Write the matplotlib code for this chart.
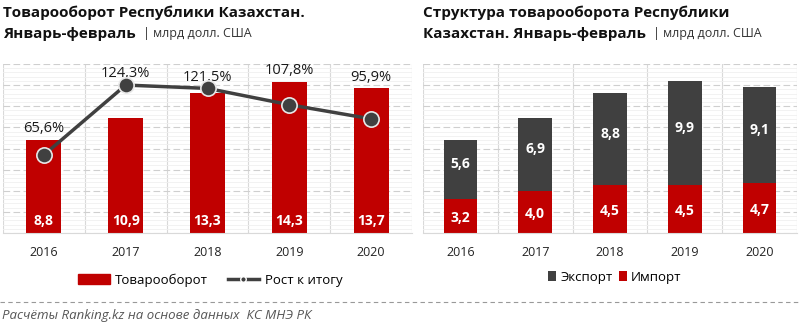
import matplotlib
matplotlib.use("Agg")
import matplotlib.pyplot as plt
import numpy as np
from matplotlib.lines import Line2D
from matplotlib.patches import Patch

plt.rcParams['font.family'] = ['Open Sans', 'DejaVu Sans']

years = ["2016", "2017", "2018", "2019", "2020"]
turnover = [8.8, 10.9, 13.3, 14.3, 13.7]
growth = [65.6, 124.3, 121.5, 107.8, 95.9]
imports = [3.2, 4.0, 4.5, 4.5, 4.7]
exports = [5.6, 6.9, 8.8, 9.9, 9.1]

RED = "#C00000"
DARK = "#404040"
GRID_MAJ = "#cfcfcf"
GRID_MIN = "#f0f0f0"

fig = plt.figure(figsize=(8.0, 3.29), dpi=100)

bottom = 1 - 233 / 329
top = 1 - 64 / 329
axL = fig.add_axes([3 / 800, bottom, (412 - 3) / 800, top - bottom])
axR = fig.add_axes([423 / 800, bottom, (797 - 423) / 800, top - bottom])

x = np.arange(len(years))


def style_axes(ax):
    ax.set_xlim(-0.5, len(years) - 0.5)
    ax.set_ylim(0, 16)
    ax.set_yticks(np.arange(0, 16.1, 2))
    ax.set_yticks(np.arange(0, 16.1, 0.4), minor=True)
    ax.grid(axis='y', which='major', color=GRID_MAJ, linestyle=(0, (6, 3)), linewidth=0.8)
    ax.grid(axis='y', which='minor', color=GRID_MIN, linestyle='-', linewidth=0.6)
    for b in np.arange(-0.5, len(years), 1.0):
        ax.axvline(b, color="#d9d9d9", linewidth=0.8, zorder=0.5)
    ax.set_axisbelow(True)
    for s in ['top', 'right', 'left']:
        ax.spines[s].set_visible(False)
    ax.spines['bottom'].set_color("#d9d9d9")
    ax.set_xticks(x)
    ax.set_xticklabels(years)
    ax.tick_params(axis='x', which='both', length=0, pad=9, labelsize=9, labelcolor="#222222")


# Left panel
style_axes(axL)
axL.bar(x, turnover, width=0.43, color=RED, zorder=2)
for xi, v in zip(x, turnover):
    axL.text(xi, 1.1, f"{v:.1f}".replace('.', ','), ha='center', va='center',
             color='white', fontsize=10, fontweight='bold', zorder=5)

axL2 = axL.twinx()
axL2.set_ylim(0, 142)
axL2.axis('off')
axL2.plot(x, growth, color=DARK, linewidth=2.5, marker='o', markersize=11,
          markerfacecolor=DARK, markeredgecolor='#e8e8e8', markeredgewidth=1.2, zorder=4)
scale = 16 / 142
for xi, g, t in zip(x, growth, turnover):
    ytop = max(t, g * scale)
    axL.text(xi, ytop + 0.35, f"{g:.1f}%".replace('.', ','), ha='center', va='bottom',
             color='#1a1a1a', fontsize=10.5, zorder=6)

# Right panel
style_axes(axR)
axR.bar(x, imports, width=0.45, color=RED, zorder=2)
axR.bar(x, exports, width=0.45, bottom=imports, color=DARK, zorder=2)
for xi, im, ex in zip(x, imports, exports):
    axR.text(xi, im / 2 - 0.2, f"{im:.1f}".replace('.', ','), ha='center', va='center',
             color='white', fontsize=10, fontweight='bold')
    axR.text(xi, im + ex / 2 + 0.5, f"{ex:.1f}".replace('.', ','), ha='center', va='center',
             color='white', fontsize=10, fontweight='bold')

# hide y ticks on all axes (after twinx, which re-enables them)
for ax in (axL, axR):
    ax.tick_params(axis='y', which='both', left=False, right=False,
                   labelleft=False, labelright=False)


# Titles
def title(xpix, line1, bold2, normal2):
    fig.text(xpix / 800, 1 - 13 / 329, line1, fontsize=11, fontweight='bold',
             color='#111111', va='center', ha='left')
    t2 = fig.text(xpix / 800, 1 - 34 / 329, bold2, fontsize=11, fontweight='bold',
                  color='#111111', va='center', ha='left')
    fig.text(0, 0, "")
    axL.annotate("| " + normal2, xy=(1, 0.5), xycoords=t2,
                 xytext=(5, 0), textcoords='offset points', va='center', ha='left',
                 fontsize=9, color='#333333', annotation_clip=False)


title(3, "Товарооборот Республики Казахстан.", "Январь-февраль", "млрд долл. США")
title(423, "Структура товарооборота Республики", "Казахстан. Январь-февраль", "млрд долл. США")

# Legends
hL = [Patch(facecolor=RED, edgecolor=RED),
      Line2D([0], [0], color=DARK, linewidth=2.5, marker='o', markersize=4,
             markerfacecolor=DARK, markeredgecolor='white')]
fig.legend(hL, ["Товарооборот", "Рост к итогу"], loc='center', bbox_to_anchor=(210 / 800, 1 - 280 / 329),
           ncol=2, frameon=False, fontsize=9.5, handlelength=2.4, handleheight=0.7,
           columnspacing=1.5, handletextpad=0.4)
hR = [Patch(facecolor=DARK), Patch(facecolor=RED)]
fig.legend(hR, ["Экспорт", "Импорт"], loc='center', bbox_to_anchor=(615 / 800, 1 - 277 / 329),
           ncol=2, frameon=False, fontsize=9.5, handlelength=0.6, handleheight=0.7,
           columnspacing=0.5, handletextpad=0.3)

# Separator and footer
fig.add_artist(Line2D([0, 1], [1 - 302 / 329, 1 - 302 / 329], transform=fig.transFigure,
                      color='#999999', linewidth=0.8, linestyle=(0, (4, 3))))
fig.text(2 / 800, 1 - 316 / 329, "Расчёты Ranking.kz на основе данных  КС МНЭ РК",
         fontsize=9.5, style='italic', color='#555555', va='center', ha='left')

fig.savefig("out.png", dpi=100, facecolor='white')
